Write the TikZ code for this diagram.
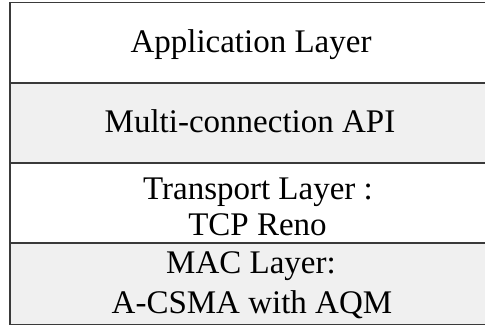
\documentclass[tikz,border=0pt]{standalone}
\usepackage{fontspec}
\setmainfont{Liberation Serif}
\definecolor{rowgray}{HTML}{F0F0F0}
\definecolor{edge}{HTML}{3A3A3A}
\begin{document}
\begin{tikzpicture}[x=1pt,y=-1pt,
  row/.style={draw=edge,line width=1.1pt},
  lbl/.style={anchor=base,inner sep=0pt,font=\fontsize{33}{38}\selectfont}]
\useasboundingbox (0,0) rectangle (485,326);
\begin{scope}
\clip (0,0) rectangle (485,326);
\path[fill=white] (10,2.5) rectangle (493,83);
\path[fill=rowgray] (10,83) rectangle (493,163);
\path[fill=white] (10,163) rectangle (493,243);
\path[fill=rowgray] (10,243) rectangle (493,324.5);
\draw[row] (10,2.5) rectangle (493,324.5);
\draw[row] (10,83) -- (493,83);
\draw[row] (10,163) -- (493,163);
\draw[row] (10,243) -- (493,243);
\end{scope}
\node[lbl] (app) at (251,53) {Application Layer};
\node[lbl] (api) at (250,133) {Multi-connection API};
\node[lbl] (tr1) at (258,200) {Transport Layer :};
\node[lbl] (tr2) at (257.5,235) {TCP Reno};
\node[lbl] (mac1) at (251,273) {MAC Layer:};
\node[lbl] (mac2) at (252,313) {A-CSMA with AQM};
\end{tikzpicture}
\end{document}
